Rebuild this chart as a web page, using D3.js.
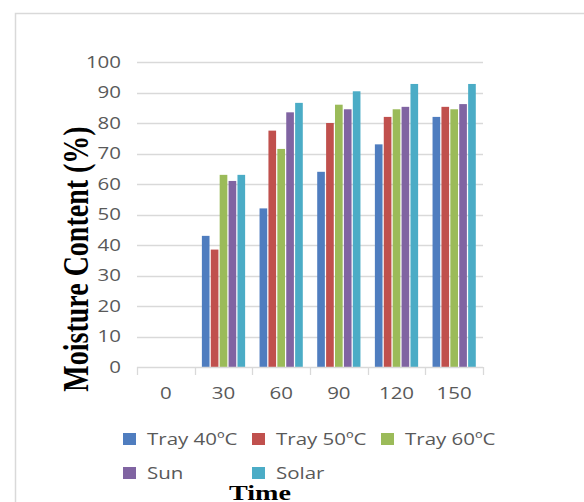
<!DOCTYPE html>
<html>
<head>
<meta charset="utf-8">
<script src="https://cdn.jsdelivr.net/npm/d3@7"></script>
<style>
  html, body { margin: 0; padding: 0; background: #fff; }
  svg { display: block; }
</style>
</head>
<body>
<svg id="chart" width="584" height="502"></svg>
<script>
// Drying time (min) categories and moisture content (%) per drying method
const times = ["0", "30", "60", "90", "120", "150"];
const tray40 = [0, 43, 52, 64, 73, 82];
const tray50 = [0, 38.5, 77.5, 80, 82, 85.3];
const tray60 = [0, 63, 71.5, 86, 84.5, 84.5];
const sun = [0, 61, 83.5, 84.5, 85.3, 86.2];
const solar = [0, 63, 86.6, 90.4, 92.8, 92.8];
const seriesNames = ["Tray 40ºC", "Tray 50ºC", "Tray 60ºC", "Sun", "Solar"];
const seriesValues = [tray40, tray50, tray60, sun, solar];
const seriesColors = ["#4F7DBF", "#C0504D", "#9BBB59", "#8064A2", "#4BACC6"];
const yTicks = [0, 10, 20, 30, 40, 50, 60, 70, 80, 90, 100];

const svg = d3.select("#chart");
const stretch = 1.28; // text is drawn slightly widened
const tickFont = "'Open Sans', 'DejaVu Sans', sans-serif";
const titleFont = "'Liberation Serif', 'Times New Roman', serif";

// chart area frame
svg.append("rect")
  .attr("x", 15.5).attr("y", 13.5)
  .attr("width", 700).attr("height", 700)
  .attr("fill", "#fff")
  .attr("stroke", "#d9d9d9").attr("stroke-width", 1.5);

const plot = { left: 137, right: 483, top: 62, bottom: 367 };

const y = d3.scaleLinear().domain([0, 100]).range([plot.bottom, plot.top]);
const x0 = d3.scaleBand().domain(times).range([plot.left, plot.right]).padding(0);
const x1 = d3.scaleBand().domain(seriesNames)
  .range([x0.bandwidth() * 0.125, x0.bandwidth() * 0.875])
  .paddingInner(0.14);

// horizontal gridlines
svg.append("g").selectAll("line")
  .data(yTicks.filter(d => d > 0))
  .join("line")
  .attr("x1", plot.left).attr("x2", plot.right)
  .attr("y1", d => Math.round(y(d)) + 0.5).attr("y2", d => Math.round(y(d)) + 0.5)
  .attr("stroke", "#d9d9d9").attr("stroke-width", 1.3);

// y tick labels
svg.append("g").selectAll("text")
  .data(yTicks)
  .join("text")
  .attr("transform", d => `translate(121,${y(d) + 5.5}) scale(${stretch},1)`)
  .attr("text-anchor", "end")
  .attr("font-family", tickFont)
  .attr("font-size", 16)
  .attr("fill", "#595959")
  .text(d => d);

// bars
const groups = svg.append("g").selectAll("g")
  .data(times)
  .join("g")
  .attr("transform", d => `translate(${x0(d)},0)`);

groups.selectAll("rect")
  .data((t, i) => seriesNames.map((s, k) => ({ s, v: seriesValues[k][i], c: seriesColors[k] })))
  .join("rect")
  .attr("x", d => x1(d.s))
  .attr("width", x1.bandwidth())
  .attr("y", d => y(d.v))
  .attr("height", d => y(0) - y(d.v))
  .attr("fill", d => d.c);

// x axis line and tick marks
const axis = svg.append("g");
axis.append("line")
  .attr("x1", plot.left).attr("x2", plot.right)
  .attr("y1", plot.bottom + 0.5).attr("y2", plot.bottom + 0.5)
  .attr("stroke", "#d9d9d9").attr("stroke-width", 1.3);
const boundaries = times.map(t => x0(t)).concat([plot.right]);
axis.selectAll("line.tick")
  .data(boundaries)
  .join("line")
  .attr("class", "tick")
  .attr("x1", d => Math.round(d) + 0.5).attr("x2", d => Math.round(d) + 0.5)
  .attr("y1", plot.bottom).attr("y2", plot.bottom + 8)
  .attr("stroke", "#d9d9d9").attr("stroke-width", 1.3);

// x tick labels
svg.append("g").selectAll("text")
  .data(times)
  .join("text")
  .attr("transform", d => `translate(${x0(d) + x0.bandwidth() / 2},399) scale(${stretch},1)`)
  .attr("text-anchor", "middle")
  .attr("font-family", tickFont)
  .attr("font-size", 16)
  .attr("fill", "#595959")
  .text(d => d);

// legend
const legendPos = [[123, 439], [252, 439], [381, 439], [123, 473], [252, 473]];
const legend = svg.append("g").selectAll("g")
  .data(seriesNames)
  .join("g")
  .attr("transform", (d, i) => `translate(${legendPos[i][0]},${legendPos[i][1]})`);
legend.append("rect")
  .attr("x", 0).attr("y", -6)
  .attr("width", 13).attr("height", 12)
  .attr("fill", (d, i) => seriesColors[i]);
legend.append("text")
  .attr("transform", `translate(24,6) scale(${stretch},1)`)
  .attr("font-family", tickFont)
  .attr("font-size", 16)
  .attr("fill", "#595959")
  .text(d => d);

// axis titles
svg.append("text")
  .attr("transform", `translate(88,259) scale(${stretch},1) rotate(-90)`)
  .attr("text-anchor", "middle")
  .attr("font-family", titleFont)
  .attr("font-weight", "bold")
  .attr("font-size", 28)
  .attr("fill", "#000")
  .text("Moisture Content (%)");

svg.append("text")
  .attr("transform", `translate(260,500) scale(${stretch},1)`)
  .attr("text-anchor", "middle")
  .attr("font-family", titleFont)
  .attr("font-weight", "bold")
  .attr("font-size", 22)
  .attr("fill", "#000")
  .text("Time");
</script>
</body>
</html>
